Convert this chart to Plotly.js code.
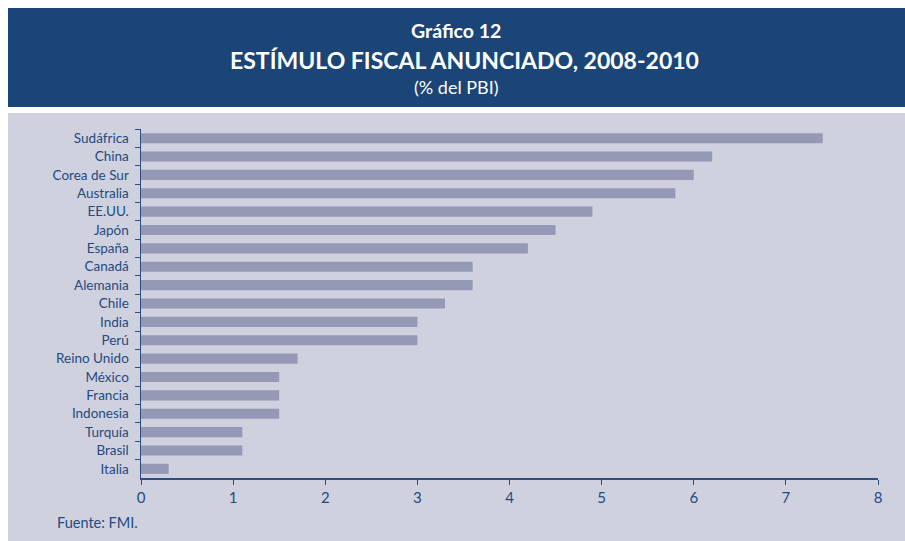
<!DOCTYPE html>
<html><head><meta charset="utf-8">
<script src="https://cdn.plot.ly/plotly-3.0.1.min.js"></script>
<style>html,body{margin:0;padding:0;background:#fff}#chart{width:905px;height:541px}</style>
</head><body><div id="chart"></div>
<script>
const countries = ["Sudáfrica","China","Corea de Sur","Australia","EE.UU.","Japón","España","Canadá","Alemania","Chile","India","Perú","Reino Unido","México","Francia","Indonesia","Turquía","Brasil","Italia"];
const stimulus = [7.4,6.2,6.0,5.8,4.9,4.5,4.2,3.6,3.6,3.3,3.0,3.0,1.7,1.5,1.5,1.5,1.1,1.1,0.3];
const xTicks = [0,1,2,3,4,5,6,7,8];

const W=905,H=541,L=141,R=878,T=129,B=478;
const pw=R-L, ph=B-T;
const px=x=>(x-L)/pw, py=y=>(B-y)/ph;
const navy="#1b4477", txt="#1f4a80", font="Lato, 'Open Sans', sans-serif";

const trace={type:"bar",orientation:"h",y:countries,x:stimulus,
  marker:{color:"#9599b6",line:{width:0}},hoverinfo:"x+y"};

const layout={width:W,height:H,margin:{l:L,r:W-R,t:T,b:H-B,pad:0},
  paper_bgcolor:"#ffffff",plot_bgcolor:"rgba(0,0,0,0)",showlegend:false,bargap:0.45,
  font:{family:font,color:txt},
  xaxis:{range:[0,8],tickvals:xTicks,ticktext:xTicks.map(String),showgrid:false,zeroline:false,
    showline:true,linecolor:"#2a4f80",linewidth:1.5,ticks:"outside",ticklen:5,tickcolor:"#2a4f80",
    tickfont:{size:15,color:txt,family:font},fixedrange:true},
  yaxis:{type:"category",autorange:"reversed",showgrid:false,zeroline:false,showline:true,
    linecolor:"#2a4f80",linewidth:1.5,ticks:"outside",ticklen:5,tickcolor:"#2a4f80",tickson:"boundaries",
    tickfont:{size:13.5,color:txt,family:font},ticklabelstandoff:8,fixedrange:true},
  shapes:[
    {type:"rect",xref:"paper",yref:"paper",x0:px(8),x1:px(905),y0:py(107),y1:py(8),fillcolor:navy,line:{width:0},layer:"below"},
    {type:"rect",xref:"paper",yref:"paper",x0:px(8),x1:px(905),y0:py(541),y1:py(113),fillcolor:"#cfd1de",line:{width:0},layer:"below"}
  ],
  annotations:[
    {xref:"paper",yref:"paper",x:px(456),y:py(31),text:"<b>Gráfico 12</b>",showarrow:false,font:{size:19.5,color:"#fff",family:font},xanchor:"center",yanchor:"middle"},
    {xref:"paper",yref:"paper",x:px(464),y:py(60),text:"<b>ESTÍMULO FISCAL ANUNCIADO, 2008-2010</b>",showarrow:false,font:{size:23,color:"#fff",family:font},xanchor:"center",yanchor:"middle"},
    {xref:"paper",yref:"paper",x:px(456),y:py(87),text:"(% del PBI)",showarrow:false,font:{size:18,color:"#fff",family:font},xanchor:"center",yanchor:"middle"},
    {xref:"paper",yref:"paper",x:px(55),y:py(522),text:"Fuente: FMI.",showarrow:false,font:{size:14.5,color:txt,family:font},xanchor:"left",yanchor:"middle"}
  ]};
Plotly.newPlot("chart",[trace],layout,{displayModeBar:false,staticPlot:true});
</script></body></html>
